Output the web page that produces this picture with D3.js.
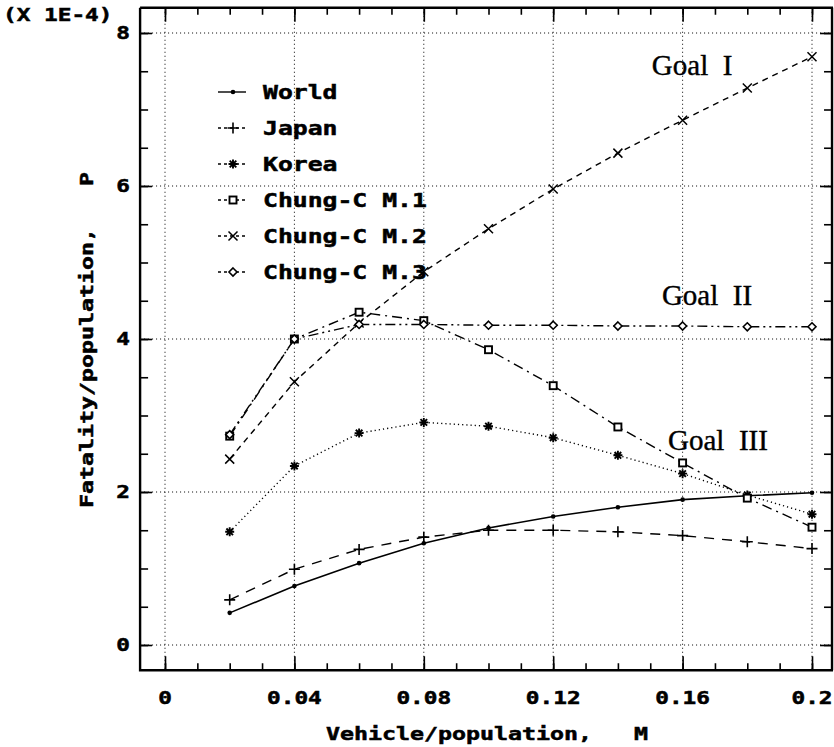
<!DOCTYPE html>
<html>
<head>
<meta charset="utf-8">
<script src="https://cdn.jsdelivr.net/npm/d3@7"></script>
<style>
  body { margin: 0; background: #fff; }
  svg { display: block; }
  .mono { font-family: "DejaVu Sans Mono", monospace; font-weight: bold; fill: #000; stroke: #000; stroke-width: 0.5; }
  .goal { font-family: "Liberation Serif", "DejaVu Serif", serif; fill: #000; stroke: #000; stroke-width: 0.4; }
</style>
</head>
<body>
<div class="d3io"></div>
<script>

// vehicle/population values (M)
var vpm = [0.02, 0.04, 0.06, 0.08, 0.10, 0.12, 0.14, 0.16, 0.18, 0.20];
// fatality/population (x 1E-4)
var world = [0.42, 0.77, 1.07, 1.33, 1.53, 1.68, 1.80, 1.90, 1.95, 1.99];
var japan = [0.59, 0.99, 1.25, 1.41, 1.50, 1.50, 1.48, 1.43, 1.35, 1.26];
var korea = [1.48, 2.34, 2.77, 2.91, 2.86, 2.71, 2.48, 2.24, 1.96, 1.71];
var chungM1 = [2.73, 4.00, 4.35, 4.24, 3.86, 3.39, 2.85, 2.38, 1.92, 1.54];
var chungM2 = [2.43, 3.44, 4.21, 4.88, 5.44, 5.96, 6.43, 6.86, 7.28, 7.69];
var chungM3 = [2.75, 4.00, 4.19, 4.19, 4.18, 4.18, 4.17, 4.17, 4.16, 4.16];

var seriesNames = ["World", "Japan", "Korea", "Chung-C M.1", "Chung-C M.2", "Chung-C M.3"];
var xTicks = [0, 0.04, 0.08, 0.12, 0.16, 0.2];
var yTicks = [0, 2, 4, 6, 8];
var goals = [["Goal  I", 0.1505, 7.45], ["Goal  II", 0.1536, 4.44], ["Goal  III", 0.1555, 2.55]];

var W = 834, H = 747;
var svg = d3.select(".d3io").append("svg").attr("width", W).attr("height", H);

var x = d3.scaleLinear().domain([0, 0.2]).range([165, 812]);
var y = d3.scaleLinear().domain([0, 8]).range([645, 33]);
var xLo = -0.0077, xHi = 0.2065, yLo = -0.33, yHi = 8.33;

var series = [
  {name: seriesNames[0], v: world,   dash: null,            mark: "dot"},
  {name: seriesNames[1], v: japan,   dash: "10,8",          mark: "plus"},
  {name: seriesNames[2], v: korea,   dash: "1.2,3",         mark: "star"},
  {name: seriesNames[3], v: chungM1, dash: "10,5,2,5",      mark: "square"},
  {name: seriesNames[4], v: chungM2, dash: "6,5",           mark: "cross"},
  {name: seriesNames[5], v: chungM3, dash: "10,4,2,4,2,4",  mark: "diamond"}
];

// grid (dotted)
var grid = svg.append("g").attr("stroke", "#000").attr("stroke-width", 1).attr("stroke-dasharray", "1,3");
grid.selectAll(".gx").data(xTicks).enter().append("line")
  .attr("x1", function(d){return x(d);}).attr("x2", function(d){return x(d);})
  .attr("y1", y(yHi)).attr("y2", y(yLo));
grid.selectAll(".gy").data(yTicks).enter().append("line")
  .attr("y1", function(d){return y(d);}).attr("y2", function(d){return y(d);})
  .attr("x1", x(xLo)).attr("x2", x(xHi));

// ticks on all four sides (pointing inward)
var minorX = d3.range(0, 0.2001, 0.01), minorY = d3.range(0, 8.01, 0.5);
function tickAxes(axisFn, scale, pos, major, minor, bigLen, smallLen) {
  var g1 = svg.append("g").attr("transform", pos)
    .call(axisFn(scale).tickValues(minor).tickSize(-smallLen).tickFormat(""));
  var g2 = svg.append("g").attr("transform", pos)
    .call(axisFn(scale).tickValues(major).tickSize(-bigLen).tickFormat(""));
  [g1, g2].forEach(function(g){
    g.select(".domain").remove();
    g.selectAll("line").attr("stroke", "#000").attr("stroke-width", 1.6);
  });
}
tickAxes(d3.axisBottom, x, "translate(0," + y(yLo) + ")", xTicks, minorX, 14, 7);
tickAxes(d3.axisTop, x, "translate(0," + y(yHi) + ")", xTicks, minorX, 14, 7);
tickAxes(d3.axisLeft, y, "translate(" + x(xLo) + ",0)", yTicks, minorY, 12, 8);
tickAxes(d3.axisRight, y, "translate(" + (x(xHi) - 1) + ",0)", yTicks, minorY, 12, 8);

// frame
svg.append("path")
  .attr("d", "M" + x(xLo) + "," + y(yHi) + "H" + x(xHi) + "M" + x(xLo) + "," + y(yHi) +
             "V" + y(yLo) + "H" + x(xHi) + "M" + (x(xHi) - 1) + "," + y(yHi) + "V" + y(yLo))
  .attr("fill", "none").attr("stroke", "#000").attr("stroke-width", 2.4);

// wide monospace text helper
function wideText(parent, str, tx, ty, size, sx, anchor, rot) {
  var t = parent.append("text").attr("class", "mono")
    .attr("font-size", size)
    .attr("text-anchor", anchor || "start")
    .attr("transform", "translate(" + tx + "," + ty + ")" + (rot ? " rotate(" + rot + ")" : "") + " scale(" + sx + ",1)")
    .style("white-space", "pre")
    .text(str);
  return t;
}

// tick labels
xTicks.forEach(function(d){
  var s = d === 0 ? "0" : String(+d.toFixed(2));
  wideText(svg, s, x(d), 704, 17.5, 1.3, "middle");
});
yTicks.forEach(function(d){
  wideText(svg, String(d), 130, y(d) + 6, 17.5, 1.3, "end");
});
wideText(svg, "(X 1E-4)", 3, 21, 17.5, 1.3, "start");

// axis titles
wideText(svg, "Vehicle/population,   M", 487, 740, 17.5, 1.33, "middle");
wideText(svg, "Fatality/population,   P", 93, 340, 17.5, 1.33, "middle", -90);

// series lines
var line = d3.line().x(function(d){return x(d[0]);}).y(function(d){return y(d[1]);});
series.forEach(function(s){
  svg.append("path")
    .datum(vpm.map(function(v, i){return [v, s.v[i]];}))
    .attr("d", line)
    .attr("fill", "none").attr("stroke", "#000")
    .attr("stroke-width", s.dash ? 1.4 : 1.6)
    .attr("stroke-dasharray", s.dash);
});

// markers
function drawMark(g, type) {
  if (type === "dot") {
    g.append("circle").attr("r", 2.3).attr("fill", "#000");
  } else if (type === "plus") {
    g.append("path").attr("d", "M-5.5,0H5.5M0,-5.5V5.5").attr("stroke", "#000").attr("stroke-width", 1.6);
  } else if (type === "star") {
    g.append("path").attr("d", "M-4.5,0H4.5M0,-4.5V4.5M-3.3,-3.3L3.3,3.3M-3.3,3.3L3.3,-3.3")
      .attr("stroke", "#000").attr("stroke-width", 1.9);
  } else if (type === "square") {
    g.append("rect").attr("x", -3.5).attr("y", -3.5).attr("width", 7).attr("height", 7)
      .attr("fill", "#fff").attr("stroke", "#000").attr("stroke-width", 1.9);
  } else if (type === "cross") {
    g.append("path").attr("d", "M-4.5,-4.5L4.5,4.5M-4.5,4.5L4.5,-4.5").attr("stroke", "#000").attr("stroke-width", 1.5);
  } else if (type === "diamond") {
    g.append("path").attr("d", "M0,-4L4,0L0,4L-4,0Z").attr("fill", "#fff").attr("stroke", "#000").attr("stroke-width", 1.6);
  }
}
series.forEach(function(s){
  vpm.forEach(function(v, i){
    var g = svg.append("g").attr("transform", "translate(" + x(v) + "," + y(s.v[i]) + ")");
    drawMark(g, s.mark);
  });
});

// legend
var legY = d3.scaleLinear().domain([0, 5]).range([92, 272]);
series.forEach(function(s, i){
  var cy = legY(i);
  svg.append("line").attr("x1", 218).attr("x2", 246).attr("y1", cy).attr("y2", cy)
    .attr("stroke", "#000").attr("stroke-width", 1.4).attr("stroke-dasharray", s.dash ? "3,3" : null);
  drawMark(svg.append("g").attr("transform", "translate(233," + cy + ")"), s.mark);
  wideText(svg, s.name, 263, cy + 7, 19.5, 1.27, "start");
});

// goal annotations
goals.forEach(function(gl){
  svg.append("text").attr("class", "goal")
    .attr("x", x(gl[1])).attr("y", y(gl[2]))
    .attr("font-size", 29)
    .style("white-space", "pre")
    .text(gl[0]);
});

</script>
</body>
</html>
